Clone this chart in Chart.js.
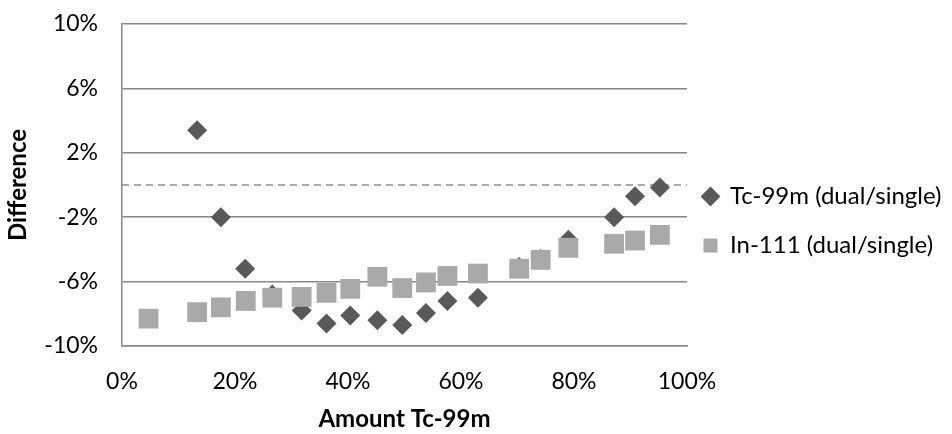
<!DOCTYPE html>
<html>
<head>
<meta charset="utf-8">
<script src="https://cdn.jsdelivr.net/npm/chart.js@4/dist/chart.umd.min.js"></script>
<style>
  html, body { margin: 0; padding: 0; background: #fff; }
  #wrap { width: 952px; height: 434px; position: relative; }
</style>
</head>
<body>
<div id="wrap"><canvas id="c" width="952" height="434"></canvas></div>
<script>
// Data (x = amount of Tc-99m in %, y = difference in %)
const tcLabel = "Tc-99m (dual/single)";
const inLabel = "In-111 (dual/single)";
const tcAmount = [13.3, 17.5, 21.8, 26.6, 31.8, 36.2, 40.4, 45.2, 49.6, 53.8, 57.6, 63.0, 70.3, 74.1, 79.0, 87.1, 90.8, 95.2];
const tcDiff   = [3.4, -2.0, -5.2, -6.8, -7.8, -8.6, -8.1, -8.4, -8.7, -7.95, -7.2, -7.0, -5.1, -4.6, -3.4, -2.0, -0.7, -0.15];
const inAmount = [4.7, 13.3, 17.5, 21.9, 26.6, 31.8, 36.2, 40.4, 45.2, 49.6, 53.8, 57.6, 63.0, 70.3, 74.1, 79.0, 87.1, 90.8, 95.2];
const inDiff   = [-8.3, -7.9, -7.6, -7.2, -7.0, -6.95, -6.7, -6.45, -5.7, -6.4, -6.05, -5.65, -5.5, -5.2, -4.65, -3.9, -3.65, -3.45, -3.1];
const refLineX = [0, 100];
const refLineY = [0, 0];
const xTitle = "Amount Tc-99m";
const yTitle = "Difference";

const toPts = (xs, ys) => xs.map((x, i) => ({ x: x, y: ys[i] }));

const FONT = "Lato, 'DejaVu Sans', sans-serif";

const legendShift = {
  id: 'legendShift',
  afterLayout(chart) {
    const lg = chart.legend;
    if (!lg) return;
    const dx = -9, dy = -8;
    lg.left += dx; lg.right += dx;
    lg.top += dy; lg.bottom += dy;
  }
};

new Chart(document.getElementById('c'), {
  type: 'scatter',
  data: {
    datasets: [
      {
        label: tcLabel,
        data: toPts(tcAmount, tcDiff),
        pointStyle: 'rectRot',
        pointRadius: 10,
        pointHoverRadius: 10,
        backgroundColor: '#595959',
        borderColor: '#595959',
        borderWidth: 0,
        order: 2
      },
      {
        label: inLabel,
        data: toPts(inAmount, inDiff),
        pointStyle: 'rect',
        pointRadius: 14,
        pointHoverRadius: 14,
        backgroundColor: '#a9a9a9',
        borderColor: '#a9a9a9',
        borderWidth: 0,
        order: 1
      },
      {
        type: 'line',
        label: 'zero',
        data: toPts(refLineX, refLineY),
        borderColor: '#8c8c8c',
        borderWidth: 1.5,
        borderDash: [7, 5],
        pointRadius: 0,
        fill: false,
        order: 3
      }
    ]
  },
  options: {
    responsive: false,
    animation: false,
    devicePixelRatio: 1,
    layout: { padding: { top: 24, right: 0, bottom: 0, left: 0 } },
    plugins: {
      tooltip: { enabled: false },
      legend: {
        position: 'right',
        align: 'center',
        maxWidth: 265,
        labels: {
          usePointStyle: true,
          boxWidth: 15,
          boxHeight: 14,
          padding: 25,
          color: '#000',
          font: { family: FONT, size: 24 },
          filter: (item) => item.text !== 'zero',
          sort: (a, b) => a.datasetIndex - b.datasetIndex
        }
      }
    },
    scales: {
      x: {
        type: 'linear',
        min: 0,
        max: 100,
        afterFit(scale) { scale.height = 88; },
        ticks: {
          stepSize: 20,
          padding: 22,
          color: '#000',
          font: { family: FONT, size: 23 },
          callback: (v) => v + '%'
        },
        grid: { display: false, drawTicks: false },
        border: { display: true, color: '#878787', width: 1.5 },
        title: {
          display: true,
          text: xTitle,
          color: '#000',
          font: { family: FONT, size: 24, weight: 'bold' },
          padding: { top: 0, bottom: 0 }
        }
      },
      y: {
        min: -10,
        max: 10,
        afterFit(scale) {
          scale.width = 122;
          scale.paddingTop = 0;
          scale.paddingBottom = 0;
        },
        ticks: {
          stepSize: 4,
          padding: 24,
          color: '#000',
          font: { family: FONT, size: 23 },
          callback: (v) => v + '%'
        },
        grid: { color: '#878787', lineWidth: 1.5, drawTicks: false },
        border: { display: true, color: '#878787', width: 1.5 },
        title: {
          display: true,
          text: yTitle,
          color: '#000',
          font: { family: FONT, size: 24, weight: 'bold' },
          padding: { top: 4, bottom: 0 }
        }
      }
    }
  },
  plugins: [legendShift]
});
</script>
</body>
</html>
